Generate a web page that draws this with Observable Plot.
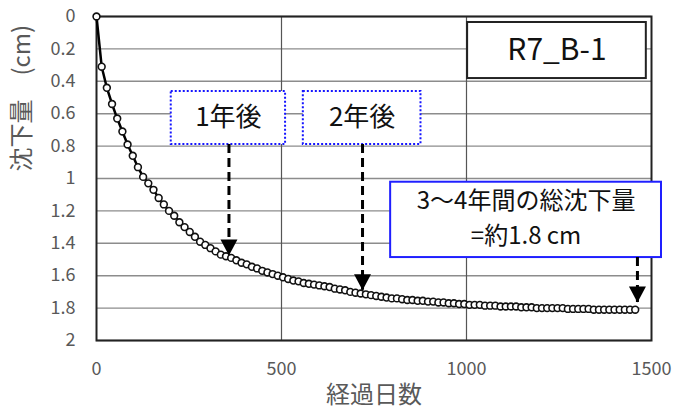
<!DOCTYPE html>
<html>
<head>
<meta charset="utf-8">
<script src="https://cdn.jsdelivr.net/npm/d3@7"></script>
<script src="https://cdn.jsdelivr.net/npm/@observablehq/plot@0.6"></script>
<style>
  html, body { margin: 0; padding: 0; background: #fff; }
</style>
</head>
<body>
<div id="chart"></div>
<script>
// ---- data ----
const days = [0,14,28,42,56,70,84,98,112,126,140,154,168,182,196,210,224,238,252,266,280,294,308,322,336,350,364,
  378,392,406,420,434,448,462,476,490,504,518,532,546,560,574,588,602,616,630,644,658,672,686,700,714,728,742,756,770,
  784,798,812,826,840,854,868,882,896,910,924,938,952,966,980,994,1008,1022,1036,1050,1064,1078,1092,1106,1120,1134,
  1148,1162,1176,1190,1204,1218,1232,1246,1260,1274,1288,1302,1316,1330,1344,1358,1372,1386,1400,1414,1428,1442,1456];
const settlement = [0,0.31,0.44,0.54,0.63,0.71,0.79,0.86,0.93,0.99,1.03,1.07,1.12,1.16,1.20,1.23,1.27,1.30,1.33,1.36,1.39,1.41,1.43,1.45,1.47,1.48,1.49,
  1.505,1.52,1.53,1.545,1.555,1.57,1.58,1.59,1.60,1.61,1.62,1.63,1.635,1.645,1.65,1.655,1.66,1.665,1.67,1.68,1.685,1.69,1.70,1.705,1.71,1.715,1.72,1.725,1.73,
  1.735,1.74,1.74,1.745,1.75,1.75,1.755,1.755,1.76,1.76,1.765,1.765,1.77,1.77,1.775,1.775,1.78,1.78,1.78,1.785,1.785,1.785,1.79,1.79,1.79,1.79,
  1.795,1.795,1.795,1.80,1.80,1.80,1.80,1.80,1.80,1.805,1.805,1.805,1.805,1.805,1.81,1.81,1.81,1.81,1.81,1.81,1.81,1.81,1.81];
const xTicks = [0, 500, 1000, 1500];
const yTicks = [0, 0.2, 0.4, 0.6, 0.8, 1, 1.2, 1.4, 1.6, 1.8, 2];
const xTitle = "経過日数";
const yTitle = "沈下量　(cm)";
const seriesName = "R7_B-1";

// annotation layer (data units)
const noteBoxes = [
  {label: "1年後", x1: 202, x2: 511, y1: 0.463, y2: 0.79},
  {label: "2年後", x1: 559, x2: 877, y1: 0.463, y2: 0.79}
];
const totalBox = {x1: 795, x2: 1527, y1: 1.023, y2: 1.488};
const totalLines = [
  {label: "3～4年間の総沈下量", y: 1.142},
  {label: "=約1.8 cm", y: 1.358}
];
const nameBox = {label: seriesName, x1: 1003, x2: 1486, y1: 0.037, y2: 0.383};
const arrows = [
  {day: 358, from: 0.79, to: 1.475},
  {day: 719, from: 0.79, to: 1.69},
  {day: 1462, from: 1.488, to: 1.765}
];

const data = days.map((d, i) => ({day: d, value: settlement[i]}));

const headSymbol = {
  draw(ctx) {
    ctx.moveTo(-8.5, -16);
    ctx.lineTo(8.5, -16);
    ctx.lineTo(0, 0);
    ctx.closePath();
  }
};

const cx = b => (b.x1 + b.x2) / 2;
const cy = b => (b.y1 + b.y2) / 2;

const chart = Plot.plot({
  width: 677,
  height: 409,
  marginLeft: 96,
  marginRight: 26,
  marginTop: 16,
  marginBottom: 69,
  style: {fontFamily: "'Noto Sans CJK JP', 'Noto Sans', sans-serif", fontSize: "18px", color: "#595959", background: "#fff"},
  x: {domain: [0, 1500], ticks: xTicks},
  y: {domain: [0, 2], reverse: true, ticks: yTicks},
  marks: [
    Plot.gridY(yTicks, {stroke: "#8c8c8c", strokeOpacity: 1, strokeWidth: 1.4}),
    Plot.gridX([500, 1000], {stroke: "#555", strokeOpacity: 1, strokeWidth: 1.2}),
    Plot.frame({stroke: "#222", strokeWidth: 2}),
    Plot.axisY(yTicks, {tickSize: 0, tickPadding: 21, fontSize: 18, fill: "#595959", label: null, tickFormat: d => String(d)}),
    Plot.axisX(xTicks, {tickSize: 0, tickPadding: 22, fontSize: 18, fill: "#595959", label: null, tickFormat: d => String(d)}),
    Plot.text([xTitle], {frameAnchor: "bottom", dy: 55, fontSize: 24, fill: "#595959", lineAnchor: "middle"}),
    Plot.text([yTitle], {frameAnchor: "left", dx: -74, dy: -7, rotate: -90, fontSize: 24, fill: "#595959", lineAnchor: "middle"}),
    Plot.line(data, {x: "day", y: "value", stroke: "#000", strokeWidth: 2.5}),
    Plot.dot(data, {x: "day", y: "value", r: 3.4, stroke: "#111", strokeWidth: 1.6, fill: "#fff"}),
    // name box
    Plot.rect([nameBox], {x1: "x1", x2: "x2", y1: "y1", y2: "y2", fill: "#fff", stroke: "#222", strokeWidth: 2}),
    Plot.text([nameBox], {x: cx, y: cy, text: "label", fontSize: 30, fill: "#111", lineAnchor: "middle"}),
    // dotted boxes
    Plot.rect(noteBoxes, {x1: "x1", x2: "x2", y1: "y1", y2: "y2", fill: "#fff", stroke: "#1515ff", strokeWidth: 2, strokeDasharray: "2,2"}),
    Plot.text(noteBoxes, {x: cx, y: cy, text: "label", fontSize: 26, fill: "#111", lineAnchor: "middle"}),
    // total box
    Plot.rect([totalBox], {x1: "x1", x2: "x2", y1: "y1", y2: "y2", fill: "#fff", stroke: "#1f1fff", strokeWidth: 2}),
    Plot.text(totalLines, {x: cx(totalBox), y: "y", text: "label", fontSize: 24, fill: "#111", lineAnchor: "middle"}),
    // arrows
    Plot.ruleX(arrows, {x: "day", y1: "from", y2: "to", stroke: "#000", strokeWidth: 3, strokeDasharray: "9,5"}),
    Plot.dot(arrows, {x: "day", y: "to", symbol: headSymbol, fill: "#000", stroke: "none"})
  ]
});

document.getElementById("chart").appendChild(chart);
</script>
</body>
</html>
